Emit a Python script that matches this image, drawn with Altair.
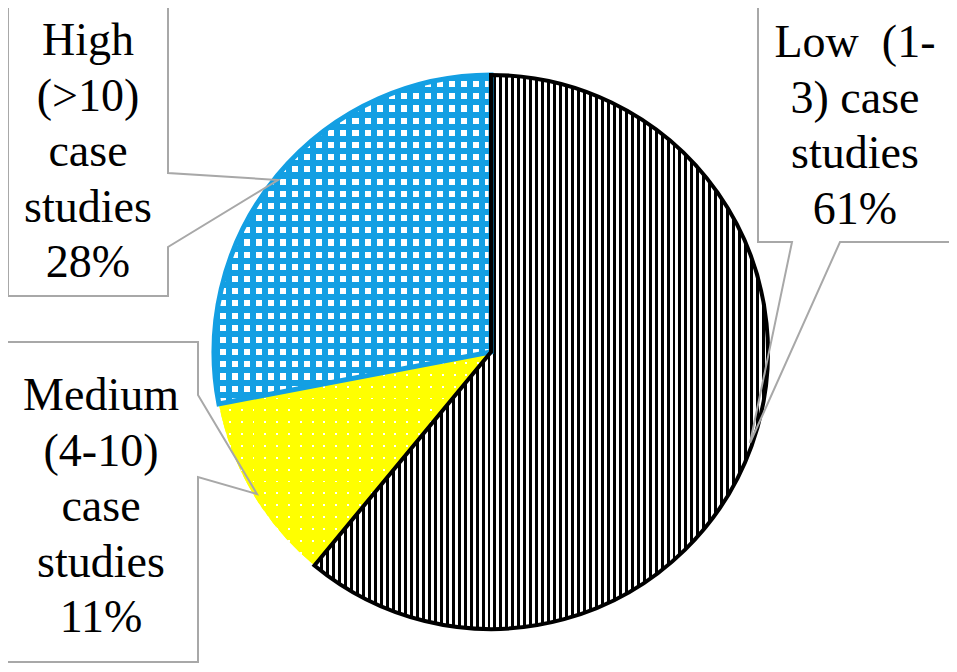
import altair as alt
import pandas as pd

# ---------------- data ----------------
keys = ["Low", "Medium", "High"]
shares = [61, 11, 28]
label_lines = [
    ["Low\u00a0 (1-", "3) case", "studies"],
    ["Medium", "(4-10)", "case", "studies"],
    ["High", "(>10)", "case", "studies"],
]

# ---------------- layout (canvas pixels) ----------------
W, H = 941, 656
CX, CY, R = 483, 344, 277
OFF = 8  # page margin; reference coords below are screen coords
label_pos = {  # text anchor (centre x, first baseline y)
    "Low": (855, 57),
    "Medium": (101, 410),
    "High": (88, 55),
}
box_shape = {  # callout polygons (screen coords)
    "Low": [(758, 5), (953, 5), (953, 242), (840, 242), (750, 443), (792, 242), (758, 242)],
    "Medium": [(4, 342), (198, 342), (198, 395), (257, 494), (198, 477), (198, 662), (4, 662)],
    "High": [(8, 4), (168, 4), (168, 173), (278, 180), (168, 247), (168, 296), (8, 296)],
}
BLUE = "#139fe3"
YELLOW = "#ffff00"
CLEAR = "rgba(255,255,255,0)"


def stripes(c_on, c_off, n, duty, along_x):
    stops = []
    for i in range(n):
        a = i / n
        b = (i + duty) / n
        c = (i + 1) / n
        stops += [
            {"offset": a, "color": c_on},
            {"offset": b, "color": c_on},
            {"offset": b, "color": c_off},
            {"offset": c, "color": c_off},
        ]
    g = {"gradient": "linear", "stops": stops, "x1": 0, "y1": 0}
    if along_x:
        g.update({"x2": 1, "y2": 0})
    else:
        g.update({"x2": 0, "y2": 1})
    return g


pie_df = pd.DataFrame({"key": keys, "share": shares, "order": list(range(len(keys)))})

theta_scale = alt.Scale(domain=[0, 100], range=[0, 6.283185307179586])

base = (
    alt.Chart(pie_df)
    .transform_window(cum="sum(share)", sort=[{"field": "order"}], frame=[None, 0])
    .transform_calculate(start="datum.cum - datum.share")
)


def arc_layer(key, **mark_kw):
    return (
        base.transform_filter(alt.datum.key == key)
        .mark_arc(outerRadius=R, **mark_kw)
        .encode(
            theta=alt.Theta("start:Q", scale=theta_scale),
            theta2="cum:Q",
            x=alt.value(CX),
            y=alt.value(CY),
        )
    )


med_a = arc_layer("Medium", fill=stripes(YELLOW, "#ffffff", 18, 0.84, False), strokeWidth=0)
med_b = arc_layer("Medium", fill=stripes(YELLOW, CLEAR, 23, 0.84, True), strokeWidth=0)
high_a = arc_layer("High", fill=stripes(BLUE, "#ffffff", 27, 0.5, False), strokeWidth=0)
high_b = arc_layer("High", fill=stripes(BLUE, CLEAR, 23, 0.5, True), strokeWidth=0)
low_a = arc_layer("Low", fill=stripes("#000000", "#ffffff", 76, 0.5, True), strokeWidth=0)
high_s = arc_layer("High", fill="#ffffff", fillOpacity=0, stroke=BLUE, strokeWidth=5)
low_s = arc_layer("Low", fill="#ffffff", fillOpacity=0, stroke="#000000", strokeWidth=4)

# callout boxes
rows = []
for k in keys:
    for i, (sx, sy) in enumerate(box_shape[k]):
        rows.append({"key": k, "i": i, "x": sx - OFF, "y": sy - OFF})
box_df = pd.DataFrame(rows)

xs = alt.Scale(domain=[0, W], nice=False, zero=False)
ys = alt.Scale(domain=[0, H], nice=False, zero=False, reverse=True)

boxes = (
    alt.Chart(box_df)
    .mark_line(interpolate="linear-closed", stroke="#a8a8a8", strokeWidth=2)
    .encode(
        x=alt.X("x:Q", scale=xs, axis=None),
        y=alt.Y("y:Q", scale=ys, axis=None),
        detail="key:N",
        order="i:Q",
    )
)

lab_rows = []
for k, s, lines in zip(keys, shares, label_lines):
    px, py = label_pos[k]
    lab_rows.append({"key": k, "x": px - OFF, "y": py - OFF, "label": "\n".join(lines + [f"{s}%"])})
lab_df = pd.DataFrame(lab_rows)

labels = (
    alt.Chart(lab_df)
    .mark_text(
        font="Times New Roman",
        fontSize=46,
        lineBreak="\n",
        lineHeight=55.5,
        align="center",
        baseline="alphabetic",
        color="#000000",
    )
    .encode(
        x=alt.X("x:Q", scale=xs, axis=None),
        y=alt.Y("y:Q", scale=ys, axis=None),
        text="label:N",
    )
)

chart = (
    alt.layer(med_a, med_b, high_a, high_b, low_a, high_s, low_s, boxes, labels)
    .properties(width=W, height=H, padding=0, autosize="none", background="#ffffff")
    .configure_view(stroke=None)
)

chart.save("out.html", embed_options={"renderer": "svg", "actions": False})
